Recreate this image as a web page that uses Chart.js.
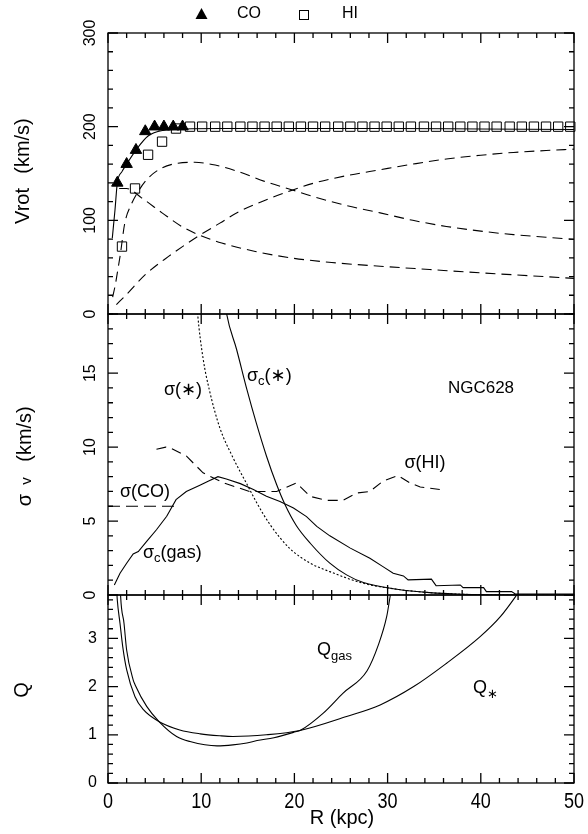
<!DOCTYPE html>
<html>
<head>
<meta charset="utf-8">
<title>NGC628</title>
<script src="https://cdn.jsdelivr.net/npm/chart.js@4.4.1/dist/chart.umd.min.js"></script>
<style>
  html, body { margin: 0; padding: 0; background: #fff; }
  canvas { display: block; }
</style>
</head>
<body>
<canvas id="chart" width="588" height="834"></canvas>
<script>
// ---- top panel: rotation curve (km/s) ----
const coR = [1, 2, 3, 4, 5, 6, 7, 8];
const coV = [140, 160, 175, 195, 200, 200, 200, 200];
const hiR = [1.5, 2.9, 4.3, 5.8, 7.3, 8.8, 10.1, 11.5, 12.8, 14.2, 15.5, 16.8, 18.1, 19.4, 20.7,
             22.0, 23.3, 24.7, 26.0, 27.3, 28.6, 29.9, 31.2, 32.5, 33.9, 35.2, 36.5, 37.8, 39.1,
             40.4, 41.7, 43.1, 44.4, 45.7, 47.0, 48.3, 49.6];
const hiV = [72, 134, 170, 184, 198, 200, 200, 200, 200, 200, 200, 200, 200, 200, 200,
             200, 200, 200, 200, 200, 200, 200, 200, 200, 200, 200, 200, 200, 200,
             200, 200, 200, 200, 200, 200, 200, 200];
const totR = [0.46, 0.75, 1, 1.5, 2, 3, 4.3, 5.9, 8.2, 12, 20, 30, 40, 50];
const totV = [81, 111, 140, 152, 160, 175, 190, 196, 197.5, 198, 198, 198, 197.5, 197];
const diskR = [0.5, 0.8, 1.1, 1.3, 1.8, 2.5, 3.25, 4.3, 5.8, 7.5, 9.3, 11.5, 14, 16.8, 19.7,
               22, 25.5, 29.2, 32.7, 36.3, 40, 43.5, 47, 50];
const diskV = [18, 32, 50, 62, 97, 117, 131, 145, 156, 161, 162, 159, 152, 141.6, 132.7,
               125.5, 116, 108, 100, 93.5, 88.5, 84.7, 82, 79.5];
const haloR = [0.9, 2, 4, 6.5, 8.3, 9.5, 12, 14, 17, 19.7, 22, 25.5, 29.2, 32.7, 36.3, 40, 43.5, 47, 50];
const haloV = [10, 21, 42, 61.5, 74, 82, 97, 109, 122, 132, 139.5, 147.5, 154, 160, 165.5, 169.5, 172.5, 174.5, 176];
const bulgeR = [1.2, 2, 3.6, 5.8, 7.9, 9.7, 12.2, 15.8, 19.7, 24, 29.2, 34.5, 39.9, 45, 50];
const bulgeV = [134, 134, 124, 108, 93.5, 84.7, 75.8, 66.8, 59.8, 55, 51, 47.5, 44, 41, 38];

// ---- middle panel: velocity dispersions (km/s) ----
const sStarR = [9.4, 9.62, 10.2, 10.9, 12.0, 13.4, 14.9, 15.9, 17.4, 19.5, 21.7, 23.8, 27.4, 31, 34.5, 38, 42, 50];
const sStarV = [21, 19, 16.0, 13.8, 11.3, 9.3, 7.5, 6.3, 4.75, 3.15, 2.15, 1.58, 0.79, 0.39, 0.16, 0.05, 0.0, 0.0];
const scStarR = [12.3, 12.73, 13.8, 14.9, 15.9, 17, 18.1, 19, 20.2, 21.7, 23.8, 25.6, 27.4, 31, 34.5, 38, 42, 50];
const scStarV = [21, 19, 16.6, 13.9, 11.65, 9.4, 7.45, 6.1, 4.7, 3.5, 2.15, 1.36, 0.84, 0.39, 0.16, 0.05, 0.0, 0.0];
const scGasR = [0.68, 1.29, 2.0, 2.7, 3.25, 4.15, 5.2, 6.3, 7.3, 8.4, 9.8, 10.8, 11.8, 12.7, 14.2, 15.6, 17,
                18.45, 19.9, 21.3, 22.4, 23.8, 26, 28.1, 29.5, 30.6, 31.7, 32.2, 34.7, 35.2, 37.8, 38.1,
                40.3, 40.6, 43.3, 43.7, 50];
const scGasV = [0.68, 1.47, 2.15, 2.78, 2.94, 3.62, 4.41, 5.32, 6.45, 7.0, 7.4, 7.7, 8.0, 7.85, 7.53, 7.13, 6.67,
                6.33, 5.88, 5.3, 4.64, 4.0, 3.17, 2.49, 1.92, 1.47, 1.29, 1.02, 1.07, 0.63, 0.68, 0.5,
                0.5, 0.23, 0.23, 0.07, 0.07];
const sCoR = [0, 7.6];
const sCoV = [6, 6];
const sHiR = [5.2, 6.2, 6.65, 8.4, 10.2, 12.4, 15.2, 18.1, 20.2, 21.7, 23.4, 25.2, 26.7, 28.1, 29.5, 31.1, 32.4, 33.5, 35.6];
const sHiV = [9.85, 10.0, 9.96, 9.4, 8.26, 7.58, 7.0, 7.0, 7.58, 6.67, 6.4, 6.4, 6.9, 7.0, 7.7, 8.08, 7.58, 7.3, 7.13];

// ---- bottom panel: Toomre Q ----
const qStarR = [0.85, 1.0, 1.29, 1.58, 2.0, 2.9, 3.8, 5.5, 7.7, 9.9, 12, 13.4, 17, 20.6, 25.6, 29.2, 32.8, 36.3, 39.9, 42.1, 43.85, 44.2];
const qStarV = [4.3, 3.79, 3.31, 2.83, 2.35, 1.79, 1.52, 1.27, 1.1, 1.02, 0.98, 0.965, 1.0, 1.09, 1.38, 1.62, 2.0, 2.48, 3.03, 3.45, 3.9, 4.0];
const qGasR = [1.3, 1.36, 1.72, 2.0, 2.7, 2.9, 4.15, 5.5, 7.36, 8.8, 11.7, 13.4, 14.9, 16.0, 17.8, 19.9, 20.7, 23.1, 25.2, 27.8, 29.0, 29.9, 30.3, 30.5];
const qGasV = [4.2, 3.86, 3.31, 2.76, 2.14, 2.04, 1.59, 1.27, 0.965, 0.86, 0.77, 0.79, 0.83, 0.88, 0.94, 1.05, 1.1, 1.45, 1.86, 2.33, 2.86, 3.45, 3.9, 4.1];

// ---- tick labels ----
const rTicks = [0, 10, 20, 30, 40, 50];
const vTicks = [0, 100, 200, 300];
const sigTicks = [0, 5, 10, 15];
const qTicks = [0, 1, 2, 3];

const FONT = '"Liberation Sans", "DejaVu Sans", sans-serif';

function pts(xs, ys) {
  return xs.map((x, i) => ({ x: x, y: ys[i] }));
}

function curve(xs, ys, axis, dash, smooth) {
  return {
    type: 'line',
    data: pts(xs, ys),
    yAxisID: axis,
    borderColor: '#000',
    borderWidth: 1.1,
    borderDash: dash || [],
    pointRadius: 0,
    fill: false,
    cubicInterpolationMode: smooth ? 'monotone' : 'default',
    tension: 0
  };
}

// text with sub-scripts: parts = [text, size, dy]
function rich(ctx, parts, x, y, align) {
  let total = 0;
  const widths = parts.map(p => {
    ctx.font = p[1] + 'px ' + FONT;
    const w = ctx.measureText(p[0]).width;
    total += w;
    return w;
  });
  let cx = align === 'center' ? x - total / 2 : x;
  ctx.textAlign = 'left';
  ctx.textBaseline = 'middle';
  parts.forEach((p, i) => {
    ctx.font = p[1] + 'px ' + FONT;
    ctx.fillText(p[0], cx, y + (p[2] || 0));
    cx += widths[i];
  });
}

function rotated(ctx, x, y, fn) {
  ctx.save();
  ctx.translate(x, y);
  ctx.rotate(-Math.PI / 2);
  fn();
  ctx.restore();
}

const panels = [
  { id: 'yV', minor: 20, major: 100, labels: vTicks, turn: true },
  { id: 'ySig', minor: 1, major: 5, labels: sigTicks, turn: true },
  { id: 'yQ', minor: 0.2, major: 1, labels: qTicks, turn: false }
];

const framePlugin = {
  id: 'frame',
  afterDraw(chart) {
    const ctx = chart.ctx;
    const x = chart.scales.x;
    ctx.save();
    ctx.strokeStyle = '#000';
    ctx.fillStyle = '#000';
    ctx.lineWidth = 1.3;

    panels.forEach(p => {
      const s = chart.scales[p.id];
      ctx.strokeRect(x.left, s.top, x.right - x.left, s.bottom - s.top);
      ctx.beginPath();
      for (let r = 0; r <= 50; r += 2) {
        const px = x.getPixelForValue(r);
        const len = r % 10 === 0 ? 10 : 5;
        ctx.moveTo(px, s.top); ctx.lineTo(px, s.top + len);
        ctx.moveTo(px, s.bottom); ctx.lineTo(px, s.bottom - len);
      }
      const n = Math.floor(s.max / p.minor + 1e-6);
      for (let i = 0; i <= n; i++) {
        const v = i * p.minor;
        const q = v / p.major;
        const len = Math.abs(q - Math.round(q)) < 1e-6 ? 10 : 5;
        const py = s.getPixelForValue(v);
        ctx.moveTo(x.left, py); ctx.lineTo(x.left + len, py);
        ctx.moveTo(x.right, py); ctx.lineTo(x.right - len, py);
      }
      ctx.stroke();

      // y tick labels
      ctx.font = '16px ' + FONT;
      p.labels.forEach(v => {
        const py = s.getPixelForValue(v);
        if (p.turn) {
          rotated(ctx, 91, py, () => {
            ctx.textAlign = 'center';
            ctx.textBaseline = 'middle';
            ctx.fillText(String(v), 0, 0);
          });
        } else {
          ctx.textAlign = 'right';
          ctx.textBaseline = 'middle';
          ctx.fillText(String(v), 97, py);
        }
      });
    });

    // x tick labels (bottom panel only)
    const bottom = chart.scales.yQ.bottom;
    ctx.font = '22px ' + FONT;
    rTicks.forEach(r => {
      ctx.save();
      ctx.translate(x.getPixelForValue(r), bottom + 19);
      ctx.scale(0.82, 1);
      ctx.textAlign = 'center';
      ctx.textBaseline = 'middle';
      ctx.fillText(String(r), 0, 0);
      ctx.restore();
    });
    rich(ctx, [['R (kpc)', 20, 0]], 342, 818, 'center');

    // y titles
    rotated(ctx, 23, 206, () => rich(ctx, [['Vrot', 20, 0]], 0, 0, 'center'));
    rotated(ctx, 23, 146, () => rich(ctx, [['(km/s)', 20, 0]], 0, 0, 'center'));
    rotated(ctx, 25, 500, () => rich(ctx, [['\u03c3', 20, 0]], 0, 0, 'center'));
    rotated(ctx, 27, 481, () => rich(ctx, [['v', 15, 0]], 0, 0, 'center'));
    rotated(ctx, 25, 434, () => rich(ctx, [['(km/s)', 20, 0]], 0, 0, 'center'));
    rotated(ctx, 22, 690, () => rich(ctx, [['Q', 20, 0]], 0, 0, 'center'));

    // curve annotations
    rich(ctx, [['\u03c3(\u2217)', 18, 0]], 183, 390, 'center');
    rich(ctx, [['\u03c3', 18, 0], ['c', 13, 5], ['(\u2217)', 18, 0]], 247, 376, 'left');
    rich(ctx, [['NGC628', 17, 0]], 481, 388, 'center');
    rich(ctx, [['\u03c3(HI)', 18, 0]], 425, 463, 'center');
    rich(ctx, [['\u03c3(CO)', 18, 0]], 145, 492, 'center');
    rich(ctx, [['\u03c3', 18, 0], ['c', 13, 5], ['(gas)', 18, 0]], 143, 553, 'left');
    rich(ctx, [['Q', 18, 0], ['gas', 13, 6]], 317, 650, 'left');
    rich(ctx, [['Q', 18, 0], ['\u2217', 13, 6]], 473, 688, 'left');

    // legend
    ctx.beginPath();
    ctx.moveTo(201.5, 8); ctx.lineTo(207.5, 19); ctx.lineTo(195.5, 19); ctx.closePath();
    ctx.fill();
    rich(ctx, [['CO', 16, 0]], 249, 14, 'center');
    ctx.lineWidth = 1;
    ctx.strokeRect(299.5, 10.5, 9, 9);
    rich(ctx, [['HI', 16, 0]], 350, 14, 'center');
    ctx.restore();
  }
};

new Chart(document.getElementById('chart'), {
  data: {
    datasets: [
      {
        type: 'scatter', data: pts(coR, coV), yAxisID: 'yV',
        pointStyle: 'triangle', pointRadius: 6.6, backgroundColor: '#000',
        borderColor: '#000', borderWidth: 1, showLine: false, clip: false
      },
      {
        type: 'scatter', data: pts(hiR, hiV), yAxisID: 'yV',
        pointStyle: 'rect', pointRadius: 6.6, backgroundColor: 'rgba(0,0,0,0)',
        borderColor: '#000', borderWidth: 1, showLine: false, clip: false
      },
      curve(totR, totV, 'yV', null, true),
      curve(diskR, diskV, 'yV', [10, 6], true),
      curve(haloR, haloV, 'yV', [10, 6], true),
      curve(bulgeR, bulgeV, 'yV', [10, 6], true),
      curve(sStarR, sStarV, 'ySig', [2, 2], true),
      curve(scStarR, scStarV, 'ySig', null, true),
      curve(scGasR, scGasV, 'ySig', null, false),
      curve(sCoR, sCoV, 'ySig', [12, 6], false),
      curve(sHiR, sHiV, 'ySig', [10, 6], false),
      curve(qStarR, qStarV, 'yQ', null, true),
      curve(qGasR, qGasV, 'yQ', null, true)
    ]
  },
  options: {
    responsive: false,
    animation: false,
    events: [],
    layout: { padding: { left: 108, right: 14, top: 33, bottom: 51 } },
    plugins: { legend: { display: false }, tooltip: { enabled: false } },
    scales: {
      x: { type: 'linear', min: 0, max: 50, display: false },
      yQ: { type: 'linear', min: 0, max: 3.9, display: false, position: 'left', stack: 'panels', stackWeight: 188 },
      ySig: { type: 'linear', min: 0, max: 19, display: false, position: 'left', stack: 'panels', stackWeight: 281 },
      yV: { type: 'linear', min: 0, max: 300, display: false, position: 'left', stack: 'panels', stackWeight: 281 }
    }
  },
  plugins: [framePlugin]
});
</script>
</body>
</html>
